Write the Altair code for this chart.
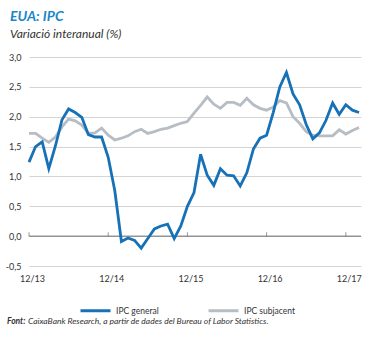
import json
import altair as alt
import pandas as pd

# ---- data ----
general = [1.24, 1.50,
           1.58, 1.13, 1.51, 1.95, 2.13, 2.07, 1.99, 1.70, 1.66, 1.66, 1.32, 0.76,
           -0.09, -0.03, -0.07, -0.20, -0.04, 0.12, 0.17, 0.20, -0.04, 0.17, 0.50, 0.73,
           1.37, 1.02, 0.85, 1.13, 1.02, 1.01, 0.84, 1.06, 1.46, 1.64, 1.69, 2.07,
           2.50, 2.74, 2.38, 2.20, 1.87, 1.63, 1.73, 1.94, 2.23, 2.04, 2.20, 2.11,
           2.07]
subjacent = [1.72, 1.72,
             1.64, 1.57, 1.66, 1.83, 1.96, 1.93, 1.86, 1.72, 1.73, 1.81, 1.69, 1.61,
             1.64, 1.68, 1.75, 1.79, 1.72, 1.75, 1.79, 1.81, 1.85, 1.89, 1.92, 2.06,
             2.19, 2.33, 2.21, 2.14, 2.24, 2.24, 2.19, 2.31, 2.20, 2.14, 2.11, 2.16,
             2.27, 2.23, 2.00, 1.89, 1.75, 1.69, 1.68, 1.68, 1.68, 1.78, 1.71, 1.77,
             1.82]
series_names = ["IPC general", "IPC subjacent"]
tick_labels = ["12/13", "12/14", "12/15", "12/16", "12/17"]
y_ticks = [-0.5, 0.0, 0.5, 1.0, 1.5, 2.0, 2.5, 3.0]
title_text = "EUA: IPC"
subtitle_text = "Variació interanual (%)"
source_label = "Font:"
source_text = "CaixaBank Research, a partir de dades del Bureau of Labor Statistics."

# ---- tables ----
df = pd.DataFrame({"i": list(range(len(general))), "general": general, "subjacent": subjacent})
tick_idx = [k * 12 for k in range(len(tick_labels))]
ticks_df = pd.DataFrame({"i": tick_idx})
zero_df = pd.DataFrame({"v": [0.0]})

FONT = "Lato"
W, H = 332, 209
LEFT, TOP = 29, 57

BLUE = "#1671b6"
GRAY = "#b6bdc4"
AXIS_GRAY = "#6e6e6e"
TEXT = "#333333"

x_scale = alt.Scale(domain=[0, 50.3], nice=False, zero=False)
y_scale = alt.Scale(domain=[-0.5, 3.0], nice=False, zero=False)
color_scale = alt.Scale(domain=series_names, range=[BLUE, GRAY])

x_axis = alt.Axis(
    values=tick_idx, tickCount=len(tick_idx) + 2,
    labelExpr=json.dumps(tick_labels) + "[round(datum.value / 12)]",
    grid=False, domain=False, ticks=False, title=None,
    labelPadding=8, labelOffset=3, labelFlush=False, labelOverlap=False,
    labelFont=FONT, labelFontSize=9, labelColor=TEXT, labelAngle=0,
)
y_axis = alt.Axis(
    values=y_ticks, tickCount=len(y_ticks) + 2,
    labelExpr="replace(replace(format(datum.value, '.1f'), '.', ','), '\u2212', '-')",
    grid=True, gridColor="#d4d4d4", gridWidth=1,
    domain=False, ticks=False, title=None, labelOverlap=False, labelFlush=False,
    labelPadding=8, labelFont=FONT, labelFontSize=9, labelColor=TEXT,
)

legend = alt.Legend(
    orient="none", legendX=50, legendY=237, direction="horizontal", title=None,
    symbolType="stroke", symbolSize=900, symbolStrokeWidth=3,
    labelFont=FONT, labelFontSize=8.5, labelColor=TEXT, labelOffset=4,
    columnPadding=43, padding=0,
)

base = alt.Chart(df)

gray_line = base.mark_line(strokeWidth=2.8).transform_calculate(
    serie="'" + series_names[1] + "'"
).encode(
    x=alt.X("i:Q", scale=x_scale, axis=x_axis),
    y=alt.Y("subjacent:Q", scale=y_scale, axis=y_axis),
    color=alt.Color("serie:N", scale=color_scale, legend=legend),
)
blue_line = base.mark_line(strokeWidth=2.8).transform_calculate(
    serie="'" + series_names[0] + "'"
).encode(
    x=alt.X("i:Q", scale=x_scale),
    y=alt.Y("general:Q", scale=y_scale),
    color=alt.Color("serie:N", scale=color_scale),
)

zero_rule = alt.Chart(zero_df).mark_rule(color=AXIS_GRAY, strokeWidth=1).encode(
    y=alt.Y("v:Q", scale=y_scale)
)
zero_ticks = alt.Chart(ticks_df).mark_tick(
    color=AXIS_GRAY, orient="vertical", thickness=1, size=4, yOffset=-2
).encode(
    x=alt.X("i:Q", scale=x_scale),
    y=alt.datum(0),
)

def text_layer(txt, x, y, size, weight="normal", style="italic", color=TEXT):
    return alt.Chart(pd.DataFrame({"t": [txt]})).mark_text(
        align="left", baseline="alphabetic", font=FONT, fontSize=size,
        fontWeight=weight, fontStyle=style, color=color,
    ).encode(text="t:N", x=alt.value(x - LEFT), y=alt.value(y - TOP))

title = text_layer(title_text, 10, 20.5, 14, weight="bold", color="#1a86c8")
subtitle = text_layer(subtitle_text, 10, 38, 12)
src1 = text_layer(source_label, 7, 324, 8.5, weight="bold")
src2 = text_layer(source_text, 28, 324, 8.5)

chart = alt.layer(
    gray_line, zero_rule, blue_line, zero_ticks, title, subtitle, src1, src2
).properties(
    width=W, height=H,
    padding={"left": LEFT, "top": TOP, "right": 374 - LEFT - W, "bottom": 338 - TOP - H},
    autosize=alt.AutoSizeParams(type="none"),
    background="white",
).configure_view(stroke=None)

chart.save("out.html", embed_options={"renderer": "svg", "actions": False})
